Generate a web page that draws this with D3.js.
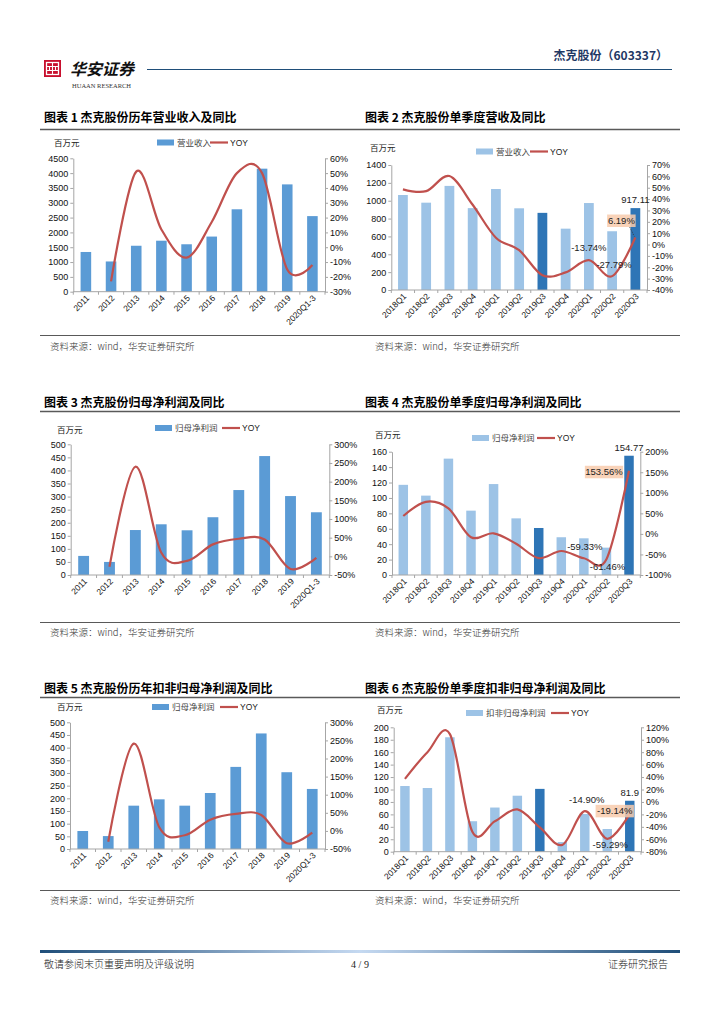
<!DOCTYPE html>
<html><head><meta charset="utf-8">
<script src="https://cdn.jsdelivr.net/npm/d3@7/dist/d3.min.js"></script>
<style>body{margin:0;background:#fff} svg{display:block}</style>
</head><body><svg id="page" width="724" height="1024"></svg>
<script>
// ---------- data ----------
const annualCats = ["2011","2012","2013","2014","2015","2016","2017","2018","2019","2020Q1-3"];
const quarterCats = ["2018Q1","2018Q2","2018Q3","2018Q4","2019Q1","2019Q2","2019Q3","2019Q4","2020Q1","2020Q2","2020Q3"];

const revenueAnnual = [1340, 1020, 1550, 1720, 1600, 1860, 2780, 4150, 3620, 2550];
const revenueAnnualYoy = [null, -23, 51, 12, -7, 17, 50, 50, -15, -12];

const revenueQuarter = [1064, 978, 1166, 917, 1131, 915, 864, 687, 974, 658, 917.11];
const revenueQuarterYoy = [48.6, 47, 60.3, 35, 6, -5, -27, -24.5, -13.74, -27.79, 6.19];

const netProfitAnnual = [73, 50, 172, 194, 171, 221, 325, 455, 302, 240];
const netProfitAnnualYoy = [null, -28, 240, 10, -12, 32, 47, 45, -34, -4];

const netProfitQuarter = [117, 103, 151, 83.5, 118, 73.5, 61, 49, 47.6, 35.5, 154.77];
const netProfitQuarterYoy = [43.5, 78, 62, -8, 1.4, -24, -59, -41.6, -59.33, -61.46, 153.56];

const deductedAnnual = [71, 51, 171, 196, 171, 221, 324, 456, 303, 237];
const deductedAnnualYoy = [null, -30, 241, 10, -12, 31, 47, 44, -34, -5];

const deductedQuarter = [105.6, 102.4, 184, 49, 71, 90, 101, 15.5, 60.6, 36.5, 81.9];
const deductedQuarterYoy = [37, 80, 109, -48, -31, -12, -41, -69, -14.90, -59.29, -19.14];

const highlightQuarters = ["2019Q3", "2020Q3"];

// ---------- page ----------
const svg = d3.select("#page");
const CJK = "'Noto Sans CJK SC','Noto Sans',sans-serif";
const NUM = "'Liberation Sans',Arial,sans-serif";

// header
const logo = svg.append("g");
logo.append("rect").attr("x",44).attr("y",60).attr("width",17).attr("height",17).attr("fill","#C8102E");
logo.append("rect").attr("x",46.5).attr("y",62.5).attr("width",12).attr("height",12).attr("fill","none").attr("stroke","#fff").attr("stroke-width",1.3);
logo.append("path").attr("d","M52.5 62.5 V74.5 M46.5 66.5 H58.5 M46.5 70.5 H58.5 M49.5 66.5 V70.5 M55.5 66.5 V70.5").attr("stroke","#fff").attr("stroke-width",1.1).attr("fill","none");
svg.append("text").attr("x",70).attr("y",75).text("华安证券")
  .style("font-family",CJK).style("font-size","16px").style("font-weight","700").style("font-style","italic").attr("fill","#111");
svg.append("text").attr("x",72).attr("y",88).text("HUAAN RESEARCH")
  .style("font-family","'Liberation Serif',serif").style("font-size","6.5px").attr("fill","#333");
svg.append("line").attr("x1",147).attr("x2",672).attr("y1",69.5).attr("y2",69.5).attr("stroke","#1F4E79").attr("stroke-width",1);
svg.append("text").attr("x",668).attr("y",60).attr("text-anchor","end").text("杰克股份（603337）")
  .style("font-family",CJK).style("font-size","12px").style("font-weight","700").attr("fill","#1F3864");

// section titles / lines / sources
const sections = [
  {titleY:122, lineY:129.5, srcLineY:335.5, srcY:350, t1:"图表 1  杰克股份历年营业收入及同比", t2:"图表 2  杰克股份单季度营收及同比"},
  {titleY:407, lineY:411.5, srcLineY:622.5, srcY:636, t1:"图表 3  杰克股份归母净利润及同比", t2:"图表 4  杰克股份单季度归母净利润及同比"},
  {titleY:693, lineY:697.5, srcLineY:890.5, srcY:904, t1:"图表 5  杰克股份历年扣非归母净利润及同比", t2:"图表 6  杰克股份单季度扣非归母净利润及同比"}
];
sections.forEach(s => {
  [[44,s.t1],[365,s.t2]].forEach(([x,t]) => svg.append("text").attr("x",x).attr("y",s.titleY).text(t)
    .style("font-family",CJK).style("font-size","12px").style("font-weight","700").attr("fill","#000"));
  svg.append("line").attr("x1",40).attr("x2",680).attr("y1",s.lineY).attr("y2",s.lineY).attr("stroke","#595959").attr("stroke-width",1.4);
  svg.append("line").attr("x1",40).attr("x2",680).attr("y1",s.srcLineY).attr("y2",s.srcLineY).attr("stroke","#595959").attr("stroke-width",1.2);
  [50,375].forEach(x => svg.append("text").attr("x",x).attr("y",s.srcY).text("资料来源：wind，华安证券研究所")
    .style("font-family",CJK).style("font-size","9.5px").style("font-weight","300").attr("fill","#333"));
});

// footer
const grad = svg.append("defs").append("linearGradient").attr("id","fgrad");
grad.append("stop").attr("offset","0%").attr("stop-color","#1F4E79");
grad.append("stop").attr("offset","50%").attr("stop-color","#C5D9F1");
grad.append("stop").attr("offset","100%").attr("stop-color","#1F4E79");
svg.append("rect").attr("x",40).attr("y",950).attr("width",640).attr("height",3).attr("fill","url(#fgrad)");
svg.append("text").attr("x",44).attr("y",968).text("敬请参阅末页重要声明及评级说明")
  .style("font-family",CJK).style("font-size","10px").style("font-weight","300").attr("fill","#222");
svg.append("text").attr("x",360).attr("y",968).attr("text-anchor","middle").text("4 / 9")
  .style("font-family","'Liberation Serif',serif").style("font-size","10px").attr("fill","#222");
svg.append("text").attr("x",668).attr("y",968).attr("text-anchor","end").text("证券研究报告")
  .style("font-family",CJK).style("font-size","10px").style("font-weight","300").attr("fill","#222");

// ---------- chart function ----------
function drawChart(cfg) {
  const g = svg.append("g");
  const x = d3.scaleBand().domain(cfg.cats).range([cfg.left, cfg.right]).paddingInner(0).paddingOuter(0);
  const yL = d3.scaleLinear().domain(cfg.leftDomain).range([cfg.bottom, cfg.top]);
  const yR = d3.scaleLinear().domain(cfg.rightDomain).range([cfg.bottom, cfg.top]);
  const bw = x.bandwidth() * 0.42;
  const cx = c => x(c) + x.bandwidth() / 2;

  // bars
  g.selectAll("rect.bar").data(cfg.cats.map((c,i)=>({c, v:cfg.bars[i]}))).join("rect")
    .attr("x", d => cx(d.c) - bw/2).attr("y", d => yL(d.v))
    .attr("width", bw).attr("height", d => yL(0) - yL(d.v))
    .attr("fill", d => cfg.color(d.c));

  // axes
  const styleAxis = a => {
    a.select(".domain").attr("stroke","#A6A6A6");
    a.selectAll(".tick line").attr("stroke","#A6A6A6");
    a.selectAll(".tick text").style("font-family",NUM).style("font-size","9px").attr("fill","#111");
  };
  const lt = d3.range(cfg.leftDomain[0], cfg.leftDomain[1] + 1e-9, cfg.leftStep);
  g.append("g").attr("transform",`translate(${cfg.left},0)`)
    .call(d3.axisLeft(yL).tickValues(lt).tickSize(3).tickSizeOuter(0).tickPadding(2).tickFormat(d3.format("d")))
    .call(styleAxis);
  const rt = d3.range(cfg.rightDomain[0], cfg.rightDomain[1] + 1e-9, cfg.rightStep);
  g.append("g").attr("transform",`translate(${cfg.right},0)`)
    .call(d3.axisRight(yR).tickValues(rt).tickSize(3).tickSizeOuter(0).tickPadding(2).tickFormat(d => d + "%"))
    .call(styleAxis);
  // category axis
  g.append("line").attr("x1",cfg.left).attr("x2",cfg.right).attr("y1",yL(0)).attr("y2",yL(0)).attr("stroke","#A6A6A6");
  const bounds = cfg.cats.map(c => x(c)).concat([cfg.right]);
  g.selectAll("line.ct").data(bounds).join("line")
    .attr("x1", d => d).attr("x2", d => d).attr("y1", yL(0)).attr("y2", yL(0) + 3).attr("stroke","#A6A6A6");
  g.selectAll("text.xl").data(cfg.cats).join("text")
    .attr("transform", d => `translate(${cx(d) + 4},${yL(0) + 7}) rotate(-45)`)
    .attr("text-anchor","end").text(d => d)
    .style("font-family",NUM).style("font-size","8.5px").attr("fill","#111");

  // yoy line
  const pts = cfg.cats.map((c,i)=>({c, v:cfg.yoy[i]})).filter(d => d.v != null);
  const line = d3.line().x(d => cx(d.c)).y(d => yR(d.v)).curve(d3.curveCardinal.tension(0));
  g.append("path").attr("d", line(pts)).attr("fill","none").attr("stroke","#C0504D").attr("stroke-width",2.2)
    .attr("stroke-linejoin","round");

  // unit
  g.append("text").attr("x", cfg.unit[0]).attr("y", cfg.unit[1]).text("百万元")
    .style("font-family",CJK).style("font-size","8.5px").attr("fill","#222");
  // legend
  const [lx, ly, lx2] = cfg.legend;
  g.append("rect").attr("x", lx).attr("y", ly - 3).attr("width", 17).attr("height", 6).attr("fill", cfg.legendColor);
  g.append("text").attr("x", lx + 20).attr("y", ly + 3).text(cfg.name)
    .style("font-family",CJK).style("font-size","8.5px").attr("fill","#444");
  g.append("line").attr("x1", lx2).attr("x2", lx2 + 18).attr("y1", ly).attr("y2", ly).attr("stroke","#C0504D").attr("stroke-width",2.2);
  g.append("text").attr("x", lx2 + 20).attr("y", ly + 3).text("YOY")
    .style("font-family",NUM).style("font-size","8.5px").attr("fill","#222");

  // annotations
  const annoStyle = s => s.style("font-family",NUM).style("font-size","9.5px").attr("fill","#222").attr("text-anchor","middle");
  (cfg.barLabels || []).forEach(i => {
    const c = cfg.cats[i];
    g.append("text").attr("x", cx(c)).attr("y", yL(cfg.bars[i]) - 5).text(String(cfg.bars[i])).call(annoStyle);
  });
  (cfg.yoyLabels || []).forEach(a => {
    const c = cfg.cats[a.i];
    const px = cx(c), py = yR(cfg.yoy[a.i]);
    const tx = px + a.dx, ty = py + a.dy;
    const label = cfg.yoy[a.i].toFixed(2) + "%";
    if (a.box) {
      const w = label.length * 4.9 + 4;
      g.append("rect").attr("x", tx - w/2).attr("y", ty - 9).attr("width", w).attr("height", 12.5)
        .attr("fill","#F8CBAD").attr("opacity",0.85);
      if (a.arrow) {
        g.append("line").attr("x1", tx + w/2 - 6).attr("y1", ty + 3.5).attr("x2", px - 1).attr("y2", py - 1)
          .attr("stroke","#333").attr("stroke-width",0.7).attr("stroke-dasharray","1.5,1");
      }
    }
    g.append("text").attr("x", tx).attr("y", ty).text(label).call(annoStyle);
  });
}

const dark = "#2E75B6", light = "#9DC3E6", mid = "#5B9BD5";
const qColor = c => highlightQuarters.includes(c) ? dark : light;

drawChart({cats: annualCats, bars: revenueAnnual, yoy: revenueAnnualYoy, name: "营业收入",
  left: 73.3, right: 325, top: 158.3, bottom: 291.7, leftDomain: [0, 4500], leftStep: 500, rightDomain: [-30, 60], rightStep: 10,
  color: () => mid, legendColor: mid, unit: [54, 146], legend: [157, 142.5, 210]});

drawChart({cats: quarterCats, bars: revenueQuarter, yoy: revenueQuarterYoy, name: "营业收入",
  left: 391.3, right: 647, top: 165, bottom: 290, leftDomain: [0, 1400], leftStep: 200, rightDomain: [-40, 70], rightStep: 10,
  color: qColor, legendColor: light, unit: [370, 151], legend: [476, 151.5, 530],
  barLabels: [10],
  yoyLabels: [{i: 8, dx: 0, dy: -9}, {i: 9, dx: 2, dy: -8}, {i: 10, dx: -14, dy: -14, box: true, arrow: true}]});

drawChart({cats: annualCats, bars: netProfitAnnual, yoy: netProfitAnnualYoy, name: "归母净利润",
  left: 70.7, right: 329.3, top: 444.3, bottom: 575, leftDomain: [0, 500], leftStep: 50, rightDomain: [-50, 300], rightStep: 50,
  color: () => mid, legendColor: mid, unit: [57, 433], legend: [155, 428, 222]});

drawChart({cats: quarterCats, bars: netProfitQuarter, yoy: netProfitQuarterYoy, name: "归母净利润",
  left: 392, right: 640.3, top: 451.7, bottom: 575, leftDomain: [0, 160], leftStep: 20, rightDomain: [-100, 200], rightStep: 50,
  color: qColor, legendColor: light, unit: [375, 438], legend: [472, 438, 537],
  barLabels: [10],
  yoyLabels: [{i: 8, dx: 1, dy: -8}, {i: 9, dx: 1, dy: 11}, {i: 10, dx: -25, dy: 4, box: true}]});

drawChart({cats: annualCats, bars: deductedAnnual, yoy: deductedAnnualYoy, name: "归母净利润",
  left: 70, right: 325, top: 722.3, bottom: 849, leftDomain: [0, 500], leftStep: 50, rightDomain: [-50, 300], rightStep: 50,
  color: () => mid, legendColor: mid, unit: [57, 710], legend: [152, 707, 220]});

drawChart({cats: quarterCats, bars: deductedQuarter, yoy: deductedQuarterYoy, name: "扣非归母净利润",
  left: 393.7, right: 641, top: 727.3, bottom: 851.7, leftDomain: [0, 200], leftStep: 20, rightDomain: [-80, 120], rightStep: 20,
  color: qColor, legendColor: light, unit: [377, 713], legend: [466, 713, 551],
  barLabels: [10],
  yoyLabels: [{i: 8, dx: 2, dy: -8}, {i: 9, dx: 3, dy: 9}, {i: 10, dx: -15, dy: 0, box: true}]});
</script></body></html>
